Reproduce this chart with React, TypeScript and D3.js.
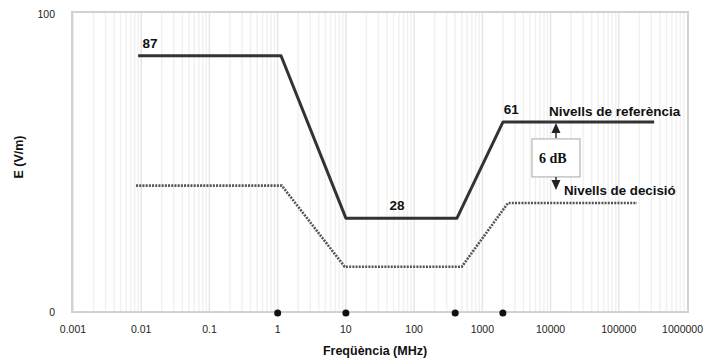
import React from 'react';
import * as d3 from 'd3';

// freq in MHz, level
const refFreq = [0.009, 1.12, 10, 425, 2010, 330000];
const refLevel = [86, 86, 31.5, 31.5, 63.8, 63.8];
const decFreq = [0.0084, 1.15, 9.6, 500, 2380, 185000];
const decLevel = [42.4, 42.4, 15.2, 15.2, 36.6, 36.6];
const markerFreq = [1, 10, 400, 2000];
const xTicks = [0.001, 0.01, 0.1, 1, 10, 100, 1000, 10000, 100000, 1000000];
const xTickLabels = ['0.001', '0.01', '0.1', '1', '10', '100', '1000', '10000', '100000', '1000000'];
const yTicks = [0, 100];
// level labels on the reference curve
const levelLabels = ['87', '28', '61'];
const levelLabelFreq = [0.0135, 56, 2650];
const levelLabelLevel = [86, 31.5, 63.8];

const W = 704;
const H = 361;
const FONT = '"Liberation Sans", Arial, sans-serif';

const App = () => {
  const x = d3.scaleLog().domain([0.001, 1000000]).range([73, 687]);
  const y = d3.scaleLinear().domain([0, 100]).range([312, 14]);

  const line = d3.line<[number, number]>()
    .x(d => x(d[0]))
    .y(d => y(d[1]));

  const refPts = refFreq.map((f, i) => [f, refLevel[i]] as [number, number]);
  const decPts = decFreq.map((f, i) => [f, decLevel[i]] as [number, number]);

  // minor log grid
  const grid: number[] = [];
  for (let k = -3; k < 6; k++) {
    for (let m = 1; m < 10; m++) grid.push(m * Math.pow(10, k));
  }

  // 6 dB annotation
  const ax = x(12000);
  const yTop = y(refLevel[5]);
  const boxTop = yTop + 17;
  const boxBot = boxTop + 38;

  return (
    <svg width={W} height={H} style={{ position: 'absolute', left: 0, top: 0, background: '#fff' }}
      fontFamily={FONT}>
      {grid.map((g, i) => (
        <line key={i} x1={x(g)} x2={x(g)} y1={12} y2={312}
          stroke={i % 9 === 0 ? '#e6e6e6' : '#f1f1f1'} strokeWidth={1.5} />
      ))}
      <rect x={72} y={12} width={616} height={300} fill="none" stroke="#d2d2d2" strokeWidth={2} />

      {yTicks.map(t => (
        <text key={t} x={55} y={y(t)} dy="0.35em" textAnchor="end" fontSize={10.5} fill="#222">{t}</text>
      ))}
      {xTicks.map((t, i) => (
        <text key={t} x={i === xTicks.length - 1 ? 703 : x(t)} y={333}
          textAnchor={i === xTicks.length - 1 ? 'end' : 'middle'} fontSize={10.5} fill="#222">{xTickLabels[i]}</text>
      ))}

      <path d={line(decPts) || ''} fill="none" stroke="#555" strokeWidth={2.6} strokeDasharray="2,1.2" />
      <path d={line(refPts) || ''} fill="none" stroke="#333" strokeWidth={3} strokeLinejoin="round" />

      {markerFreq.map(f => (
        <circle key={f} cx={x(f)} cy={313} r={3.5} fill="#111" />
      ))}

      {levelLabels.map((l, i) => (
        <text key={l} x={x(levelLabelFreq[i])} y={y(levelLabelLevel[i]) - 8} textAnchor="middle"
          fontSize={13.5} fontWeight="bold" fill="#111">{l}</text>
      ))}

      <text x={549} y={y(refLevel[5]) - 6} fontSize={13.5} fontWeight="bold" fill="#111">Nivells de referència</text>
      <text x={564} y={195} fontSize={13.3} fontWeight="bold" fill="#111">Nivells de decisió</text>

      {/* 6 dB box and arrows */}
      <line x1={ax} x2={ax} y1={yTop + 8} y2={boxTop} stroke="#333" strokeWidth={1.5} />
      <path d={`M${ax},${yTop + 1}L${ax - 4.5},${yTop + 11}L${ax + 4.5},${yTop + 11}Z`} fill="#222" />
      <rect x={ax - 24} y={boxTop} width={48} height={boxBot - boxTop} fill="#fff" stroke="#c4c4c4" strokeWidth={1.5} />
      <text x={ax - 17} y={boxTop + 24} fontSize={14} fontWeight="bold" fontFamily='"Liberation Serif", "Times New Roman", serif' fill="#111">6 dB</text>
      <line x1={ax} x2={ax} y1={boxBot} y2={boxBot + 5} stroke="#333" strokeWidth={1.5} />
      <path d={`M${ax},${boxBot + 13}L${ax - 4.5},${boxBot + 3}L${ax + 4.5},${boxBot + 3}Z`} fill="#222" />

      <text transform={`translate(23,157) rotate(-90)`} textAnchor="middle" fontSize={12.5} fontWeight="bold" fill="#111">E (V/m)</text>
      <text x={375} y={355} textAnchor="middle" fontSize={12.5} fontWeight="bold" fill="#111">Freqüència (MHz)</text>
    </svg>
  );
};

export default App;
